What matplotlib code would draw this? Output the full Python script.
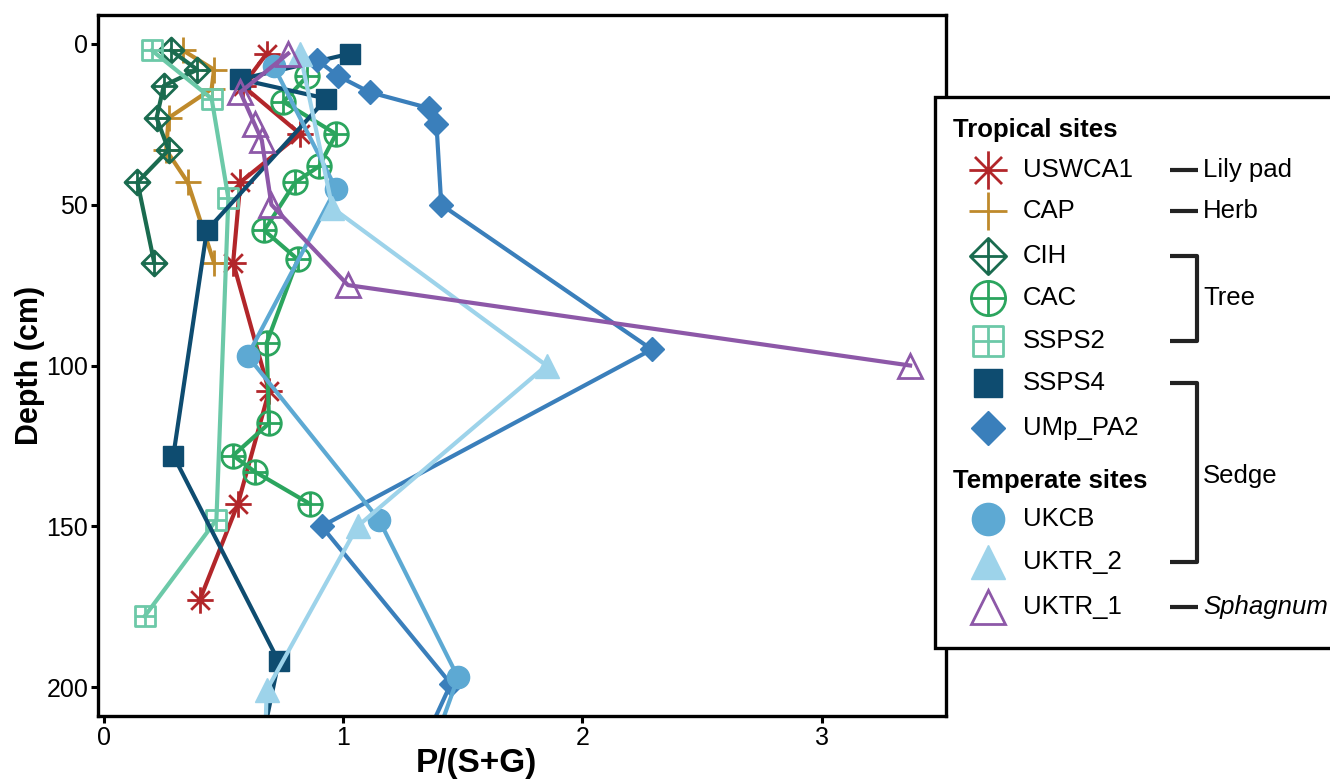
import matplotlib.pyplot as plt
import numpy as np
from matplotlib.path import Path
from matplotlib.lines import Line2D
from matplotlib.patches import Rectangle

plt.rcParams['font.family'] = ['Liberation Sans', 'DejaVu Sans']

# P/(S+G) ratio down each core (depth in cm)
uswca1_depth = [3, 13, 28, 43, 68, 108, 143, 173]
uswca1_val = [0.68, 0.58, 0.82, 0.57, 0.54, 0.69, 0.56, 0.40]

cap_depth = [2, 8, 14, 23, 33, 43, 68]
cap_val = [0.33, 0.46, 0.45, 0.27, 0.26, 0.35, 0.46]

cih_depth = [2, 8, 13, 23, 33, 43, 68]
cih_val = [0.28, 0.39, 0.25, 0.22, 0.27, 0.14, 0.21]

cac_depth = [10, 18, 28, 38, 43, 58, 67, 93, 118, 128, 133, 143]
cac_val = [0.85, 0.75, 0.97, 0.90, 0.80, 0.67, 0.81, 0.68, 0.69, 0.54, 0.63, 0.86]

ssps2_depth = [2, 17, 48, 148, 178]
ssps2_val = [0.20, 0.45, 0.52, 0.47, 0.17]

ssps4_depth = [3, 11, 17, 58, 128, 192, 228]
ssps4_val = [1.03, 0.57, 0.93, 0.43, 0.29, 0.73, 0.63]

umppa2_depth = [5, 10, 15, 20, 25, 50, 95, 150, 199, 228]
umppa2_val = [0.89, 0.98, 1.11, 1.36, 1.39, 1.41, 2.29, 0.91, 1.45, 1.27]

ukcb_depth = [7, 45, 97, 148, 197, 228]
ukcb_val = [0.71, 0.97, 0.60, 1.15, 1.48, 1.33]

uktr2_depth = [3, 51, 100, 150, 201, 228]
uktr2_val = [0.82, 0.955, 1.85, 1.06, 0.68, 0.67]

uktr1_depth = [3, 15, 25, 30, 50, 75, 100]
uktr1_val = [0.77, 0.57, 0.63, 0.66, 0.70, 1.02, 3.37]


def outline_with_cross(verts):
    # closed outline plus a vertical and a horizontal stroke through the centre
    v = list(verts) + [verts[0], (0, -1), (0, 1), (-1, 0), (1, 0)]
    codes = [Path.MOVETO] + [Path.LINETO] * (len(verts) - 1) + [Path.CLOSEPOLY,
             Path.MOVETO, Path.LINETO, Path.MOVETO, Path.LINETO]
    return Path(v, codes)


diamond_plus = outline_with_cross([(0, 1), (1, 0), (0, -1), (-1, 0)])
square_plus = outline_with_cross([(-1, -1), (1, -1), (1, 1), (-1, 1)])
circ = Path.unit_circle()
circle_plus = Path(np.concatenate([circ.vertices, [[0, -1], [0, 1], [-1, 0], [1, 0]]]),
                   np.concatenate([circ.codes, [Path.MOVETO, Path.LINETO, Path.MOVETO, Path.LINETO]]))
ang = np.deg2rad([90, 45, 0, -45])
ast_v, ast_c = [], []
for a in ang:
    ast_v += [(np.cos(a), np.sin(a)), (-np.cos(a), -np.sin(a))]
    ast_c += [Path.MOVETO, Path.LINETO]
asterisk = Path(ast_v, ast_c)
plus = Path([(0, -1), (0, 1), (-1, 0), (1, 0)], [Path.MOVETO, Path.LINETO, Path.MOVETO, Path.LINETO])

# name, depth, values, colour, marker, open marker?, marker size
series = [
    ('USWCA1', uswca1_depth, uswca1_val, '#B2262A', asterisk, True, 19),
    ('CAP', cap_depth, cap_val, '#BF8A2B', plus, True, 19),
    ('CIH', cih_depth, cih_val, '#1A6B4F', diamond_plus, True, 18),
    ('CAC', cac_depth, cac_val, '#2BA55E', circle_plus, True, 17),
    ('SSPS2', ssps2_depth, ssps2_val, '#6CC9A8', square_plus, True, 15),
    ('SSPS4', ssps4_depth, ssps4_val, '#0E4C70', 's', False, 14),
    ('UMp_PA2', umppa2_depth, umppa2_val, '#3A7FBB', 'D', False, 12),
    ('UKCB', ukcb_depth, ukcb_val, '#5DA9D3', 'o', False, 16),
    ('UKTR_2', uktr2_depth, uktr2_val, '#9DD3EA', '^', False, 17),
    ('UKTR_1', uktr1_depth, uktr1_val, '#8D58A8', '^', True, 17),
]

fig = plt.figure(figsize=(13.3, 7.81), dpi=100)
ax = fig.add_axes([98 / 1330, 1 - 716 / 781, (946 - 98) / 1330, (716 - 15) / 781])

for name, d, v, col, mk, hollow, ms in series:
    ax.plot(v, d, color=col, lw=3, marker=mk, ms=ms,
            mfc='none' if hollow else col, mec=col, mew=2 if hollow else 1)

ax.set_xlim(-0.025, 3.52)
ax.set_ylim(209, -9)
ax.set_xticks([0, 1, 2, 3])
ax.set_yticks([0, 50, 100, 150, 200])
ax.tick_params(labelsize=18, length=5, width=2.2, color='black', pad=2)
for s in ax.spines.values():
    s.set_linewidth(2.4)
ax.set_xlabel('P/(S+G)', fontsize=24, fontweight='bold')
ax.xaxis.set_label_coords(0.446, -0.045, transform=ax.transAxes)
ax.xaxis.label.set_va('top')
ax.set_ylabel('Depth (cm)', fontsize=22, fontweight='bold', labelpad=1)


# legend panel, placed in pixel positions
def fx(px):
    return px / 1330


def fy(py):
    return 1 - py / 781


fig.add_artist(Rectangle((fx(935), fy(648)), fx(1345) - fx(935), fy(97) - fy(648),
                         transform=fig.transFigure, facecolor='white', edgecolor='black',
                         lw=2.4, clip_on=False, zorder=5))

fs = 18.5
fig.text(fx(953), fy(130), 'Tropical sites', fontsize=fs, fontweight='bold', va='center', zorder=6)
fig.text(fx(953), fy(481), 'Temperate sites', fontsize=fs, fontweight='bold', va='center', zorder=6)

rows = [170, 211, 256, 298, 341, 383, 428, 519, 562, 607]
for (name, d, v, col, mk, hollow, ms), py in zip(series, rows):
    fig.add_artist(Line2D([fx(988)], [fy(py)], transform=fig.transFigure, marker=mk,
                          ms=ms * 1.45, mfc='none' if hollow else col, mec=col,
                          mew=2 if hollow else 1, zorder=6))
    fig.text(fx(1023), fy(py), name, fontsize=fs, va='center', zorder=6)

# habitat brackets
bk = dict(transform=fig.transFigure, color='#222222', lw=3, zorder=6, solid_capstyle='butt')
for py in [170, 211, 607]:
    fig.add_artist(Line2D([fx(1170), fx(1198)], [fy(py), fy(py)], **bk))
for top, bot in [(256, 341), (383, 562)]:
    fig.add_artist(Line2D([fx(1170), fx(1197), fx(1197), fx(1170)],
                          [fy(top), fy(top), fy(bot), fy(bot)], **bk))

fig.text(fx(1203), fy(170), 'Lily pad', fontsize=fs, va='center', zorder=6)
fig.text(fx(1203), fy(211), 'Herb', fontsize=fs, va='center', zorder=6)
fig.text(fx(1203), fy(298), 'Tree', fontsize=fs, va='center', zorder=6)
fig.text(fx(1203), fy(476), 'Sedge', fontsize=fs, va='center', zorder=6)
fig.text(fx(1203), fy(607), 'Sphagnum', fontsize=fs, va='center', style='italic', zorder=6)

fig.savefig('out.png', dpi=100)
